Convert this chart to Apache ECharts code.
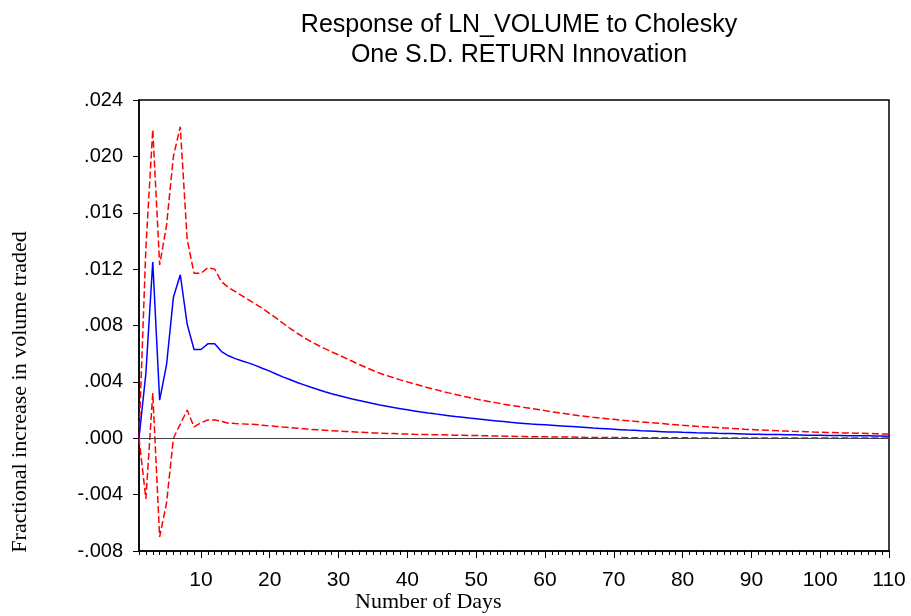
<!DOCTYPE html>
<html>
<head>
<meta charset="utf-8">
<script src="https://cdn.jsdelivr.net/npm/echarts@6/dist/echarts.min.js"></script>
<style>
  html, body { margin: 0; padding: 0; background: #fff; }
  #chart { width: 911px; height: 616px; }
</style>
</head>
<body>
<div id="chart"></div>
<script>
// horizon (days 1..110)
const days = []
for (let d = 1; d <= 110; d++) days.push(d)

// impulse response
const response = [
  0, 0.0046, 0.0125, 0.0027, 0.0052, 0.0100, 0.0116, 0.0081, 0.0063, 0.0063,
  0.0067, 0.0067, 0.00615, 0.00585, 0.00565, 0.00548, 0.00533, 0.00515, 0.00495, 0.00476,
  0.00454, 0.00434, 0.00415, 0.00396, 0.00379, 0.00362, 0.00346, 0.00330, 0.00316, 0.00303,
  0.00291, 0.00279, 0.00268, 0.00257, 0.00246, 0.00236, 0.00227, 0.00218, 0.00210, 0.00202,
  0.00194, 0.00186, 0.00179, 0.00173, 0.00166, 0.00160, 0.00154, 0.00149, 0.00143, 0.00138,
  0.00133, 0.00128, 0.00123, 0.00118, 0.00113, 0.00109, 0.00105, 0.00101, 0.00098, 0.00095,
  0.00092, 0.00089, 0.00086, 0.00083, 0.00080, 0.00077, 0.00073, 0.00070, 0.00067, 0.00064,
  0.00061, 0.00058, 0.00056, 0.00053, 0.00051, 0.00049, 0.00047, 0.00045, 0.00044, 0.00042,
  0.00041, 0.00039, 0.00038, 0.00037, 0.00035, 0.00034, 0.00033, 0.00032, 0.00031, 0.00029,
  0.00028, 0.00027, 0.00026, 0.00026, 0.00025, 0.00024, 0.00023, 0.00022, 0.00022, 0.00021,
  0.00020, 0.00020, 0.00019, 0.00018, 0.00018, 0.00017, 0.00017, 0.00016, 0.00016, 0.00015
]

// +/- 2 S.E. bands
const upper = [
  0, 0.0135, 0.0219, 0.0123, 0.0151, 0.0200, 0.0221, 0.0141, 0.0117, 0.0117,
  0.0121, 0.0120, 0.0111, 0.0107, 0.0104, 0.0101, 0.0098, 0.0095, 0.0092, 0.00885,
  0.00850, 0.00813, 0.00778, 0.00745, 0.00714, 0.00686, 0.00660, 0.00636, 0.00613, 0.00592,
  0.00569, 0.00546, 0.00523, 0.00502, 0.00481, 0.00461, 0.00445, 0.00429, 0.00414, 0.00400,
  0.00386, 0.00372, 0.00359, 0.00347, 0.00334, 0.00322, 0.00311, 0.00299, 0.00289, 0.00278,
  0.00268, 0.00259, 0.00251, 0.00242, 0.00234, 0.00227, 0.00219, 0.00212, 0.00204, 0.00196,
  0.00188, 0.00181, 0.00174, 0.00167, 0.00160, 0.00155, 0.00149, 0.00144, 0.00139, 0.00134,
  0.00129, 0.00125, 0.00120, 0.00116, 0.00112, 0.00108, 0.00104, 0.00100, 0.00096, 0.00092,
  0.00089, 0.00085, 0.00082, 0.00079, 0.00076, 0.00073, 0.00070, 0.00067, 0.00064, 0.00062,
  0.00059, 0.00057, 0.00055, 0.00053, 0.00051, 0.00049, 0.00048, 0.00046, 0.00044, 0.00043,
  0.00041, 0.00040, 0.00038, 0.00037, 0.00036, 0.00035, 0.00034, 0.00032, 0.00031, 0.00030
]

const lower = [
  0, -0.0043, 0.0032, -0.0070, -0.0046, 0.0000, 0.0010, 0.0020, 0.0008, 0.0011,
  0.0013, 0.0013, 0.0012, 0.00107, 0.00104, 0.00102, 0.00100, 0.00097, 0.00092, 0.00087,
  0.00084, 0.00079, 0.00075, 0.00071, 0.00067, 0.00063, 0.00060, 0.00057, 0.00054, 0.00051,
  0.00048, 0.00046, 0.00043, 0.00041, 0.00038, 0.00036, 0.00034, 0.00033, 0.00031, 0.00030,
  0.00028, 0.00027, 0.00026, 0.00025, 0.00024, 0.00023, 0.00022, 0.00021, 0.00020, 0.00019,
  0.00018, 0.00017, 0.00016, 0.00015, 0.00014, 0.00013, 0.00012, 0.00011, 0.00010, 0.00010,
  0.00009, 0.00009, 0.00008, 0.00008, 0.00007, 0.00006, 0.00006, 0.00006, 0.00005, 0.00005,
  0.00005, 0.00004, 0.00004, 0.00004, 0.00004, 0.00003, 0.00003, 0.00003, 0.00003, 0.00003,
  0.00003, 0.00002, 0.00002, 0.00002, 0.00002, 0.00002, 0.00002, 0.00002, 0.00002, 0.00002,
  0.00001, 0.00001, 0.00001, 0.00001, 0.00001, 0.00001, 0.00001, 0.00001, 0.00001, 0.00001,
  0.00001, 0.00001, 0.00001, 0.00001, 0.00001, 0.00001, 0.00001, 0.00001, 0.00001, 0.00001
]

const xLabels = [10, 20, 30, 40, 50, 60, 70, 80, 90, 100, 110]

const pairs = (vals) => days.map((d, i) => [d, vals[i]])
const fmtY = (v) => v.toFixed(3).replace("0.", ".")

const chart = echarts.init(document.getElementById("chart"))

const option = {
  animation: false,
  title: {
    text: "Response of LN_VOLUME to Cholesky\nOne S.D. RETURN Innovation",
    left: 514,
    textAlign: "center",
    top: 5,
    textStyle: {
      fontFamily: "Liberation Sans",
      fontWeight: "normal",
      fontSize: 25,
      lineHeight: 30,
      color: "#000"
    }
  },
  grid: {
    left: 139,
    right: 22,
    top: 100,
    bottom: 65,
    show: true,
    borderColor: "#000",
    borderWidth: 1.5,
    containLabel: false
  },
  xAxis: [
    {
      type: "value",
      min: 1,
      max: 110,
      position: "bottom",
      axisLine: { show: true, onZero: false, lineStyle: { color: "#000", width: 1.5 } },
      splitLine: { show: false },
      axisTick: {
        show: true,
        customValues: days,
        length: 4,
        lineStyle: { color: "#000", width: 1 }
      },
      axisLabel: {
        customValues: xLabels,
        margin: 19,
        fontFamily: "Liberation Sans",
        fontSize: 21,
        color: "#000"
      }
    },
    {
      type: "value",
      min: 1,
      max: 110,
      position: "bottom",
      axisLine: { show: false, onZero: false },
      splitLine: { show: false },
      axisTick: {
        show: true,
        customValues: xLabels,
        length: 7,
        lineStyle: { color: "#000", width: 1 }
      },
      axisLabel: { show: false }
    }
  ],
  yAxis: {
    type: "value",
    min: -0.008,
    max: 0.024,
    interval: 0.004,
    axisLine: { show: true, lineStyle: { color: "#000", width: 1.5 } },
    axisTick: { show: true, length: 6, lineStyle: { color: "#000", width: 1 } },
    splitLine: { show: false },
    axisLabel: {
      formatter: fmtY,
      margin: 16,
      fontFamily: "Liberation Sans",
      fontSize: 20,
      color: "#000"
    }
  },
  graphic: [
    {
      type: "text",
      left: 355,
      top: 591,
      style: {
        text: "Number of Days",
        font: "22px 'Liberation Serif'",
        fill: "#000"
      }
    },
    {
      type: "text",
      x: 20,
      y: 392,
      rotation: Math.PI / 2,
      style: {
        text: "Fractional increase in volume traded",
        font: "22px 'Liberation Serif'",
        fill: "#000",
        align: "center",
        verticalAlign: "middle"
      }
    }
  ],
  series: [
    {
      name: "response",
      type: "line",
      data: pairs(response),
      showSymbol: false,
      lineStyle: { color: "#0000ff", width: 1.5 },
      markLine: {
        silent: true,
        symbol: "none",
        label: { show: false },
        lineStyle: { color: "#444", width: 1, type: "solid" },
        data: [{ yAxis: 0 }]
      },
      z: 3
    },
    {
      name: "upper",
      type: "line",
      data: pairs(upper),
      showSymbol: false,
      lineStyle: { color: "#ff0000", width: 1.5, type: [7, 3] },
      z: 2
    },
    {
      name: "lower",
      type: "line",
      data: pairs(lower),
      showSymbol: false,
      lineStyle: { color: "#ff0000", width: 1.5, type: [7, 3] },
      z: 2
    }
  ]
}

chart.setOption(option)
</script>
</body>
</html>
